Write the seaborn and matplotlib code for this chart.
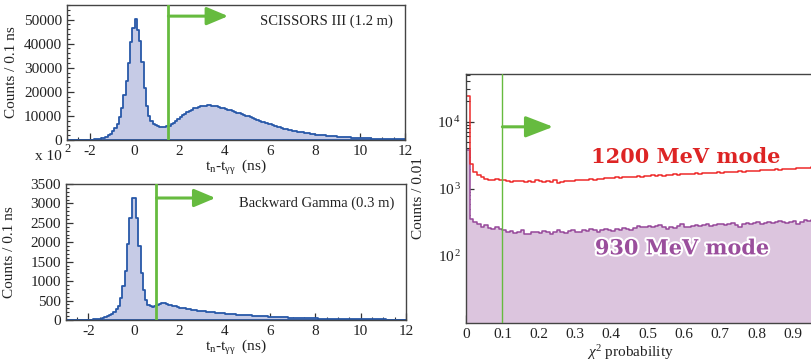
import numpy as np
import pandas as pd
import seaborn as sns
import matplotlib
matplotlib.use("Agg")
from matplotlib import pyplot as plt
from matplotlib import patheffects
from matplotlib.ticker import MultipleLocator, LogLocator, FixedLocator, FuncFormatter

# t_n - t_gg spectra, 0.1 ns bins starting at -3 ns
TOF_START = -3.0
TOF_BIN = 0.1
scissors_counts = [
    0, 0, 0, 0, 0, 0, 0, 0, 0, 0,
    150, 200, 300, 400, 550, 750, 1000, 1400, 2000, 2700,
    3600, 5000, 6800, 9500, 13500, 18500, 24500, 32000, 40500, 46500,
    50300, 45500, 41000, 32500, 21500, 14000, 10000, 7800, 6700, 6100,
    5800, 5600, 5600, 5600, 5700, 6000, 6500, 7100, 7800, 8600,
    9400, 10200, 10900, 11500, 12100, 12600, 13100, 13500, 13800, 14000,
    14200, 14300, 14400, 14400, 14300, 14200, 14000, 13800, 13500, 13200,
    12900, 12600, 12300, 12000, 11700, 11400, 11100, 10800, 10500, 10100,
    9800, 9400, 9100, 8700, 8400, 8000, 7700, 7400, 7100, 6800,
    6500, 6200, 5900, 5600, 5300, 5000, 4750, 4500, 4300, 4100,
    3900, 3700, 3500, 3350, 3200, 3050, 2900, 2750, 2600, 2450,
    2300, 2200, 2100, 2000, 1900, 1800, 1720, 1640, 1560, 1480,
    1400, 1330, 1260, 1200, 1140, 1080, 1020, 970, 920, 870,
    820, 780, 740, 700, 670, 640, 610, 580, 550, 520,
    500, 470, 450, 430, 410, 390, 370, 350, 330, 310,
]
backward_counts = [
    0, 0, 0, 0, 0, 0, 0, 0, 0, 0,
    10, 12, 15, 20, 25, 35, 50, 70, 90, 120,
    160, 210, 270, 360, 560, 880, 1250, 1950, 2620, 3150,
    3150, 2620, 1900, 1200, 780, 520, 390, 350, 340, 360,
    390, 420, 430, 425, 410, 395, 380, 365, 350, 335,
    320, 308, 296, 285, 275, 266, 258, 250, 243, 236,
    229, 222, 215, 208, 202, 196, 190, 184, 178, 172,
    166, 161, 156, 151, 146, 141, 137, 133, 129, 125,
    121, 117, 113, 109, 105, 101, 98, 95, 92, 89,
    86, 83, 80, 77, 74, 71, 68, 65, 62, 60,
    58, 56, 54, 52, 50, 48, 46, 44, 42, 41,
    40, 38, 37, 35, 34, 32, 31, 30, 29, 28,
    27, 26, 25, 24, 23, 22, 21, 20, 19, 18,
    18, 17, 17, 16, 16, 15, 15, 14, 14, 13,
    13, 12, 12, 11, 11, 11, 10, 10, 10, 9,
]

# chi2 probability, 0.01 bins from 0 to 1
CHI_BIN = 0.01
mode1200_counts = [
    24000, 2300, 1780, 1580, 1470, 1400, 1350, 1330, 1380, 1350,
    1370, 1300, 1260, 1320, 1290, 1310, 1260, 1300, 1280, 1330,
    1300, 1270, 1310, 1280, 1350, 1200, 1260, 1300, 1320, 1290,
    1340, 1330, 1360, 1340, 1380, 1370, 1410, 1390, 1420, 1450,
    1430, 1480, 1460, 1500, 1470, 1520, 1490, 1530, 1510, 1560,
    1540, 1580, 1560, 1590, 1570, 1610, 1600, 1630, 1610, 1650,
    1640, 1670, 1650, 1690, 1680, 1710, 1690, 1730, 1720, 1750,
    1740, 1770, 1760, 1790, 1780, 1810, 1800, 1830, 1820, 1860,
    1850, 1880, 1870, 1910, 1900, 1940, 1930, 1970, 1960, 2000,
    1990, 2030, 2020, 2060, 2050, 2090, 2080, 2120, 2110, 2160,
]
mode930_counts = [
    3800, 350, 320, 300, 270, 285, 260, 250, 265, 255,
    240, 225, 235, 220, 230, 245, 215, 210, 230, 225,
    220, 235, 225, 215, 230, 240, 225, 220, 235, 245,
    230, 225, 240, 235, 250, 240, 230, 245, 255, 240,
    235, 250, 245, 260, 255, 240, 260, 275, 265, 270,
    280, 265, 275, 285, 270, 255, 265, 260, 275, 300,
    270, 265, 280, 290, 275, 285, 295, 280, 290, 300,
    295, 285, 300, 310, 290, 270, 295, 305, 300, 310,
    315, 300, 310, 320, 305, 315, 330, 320, 310, 325,
    335, 300, 325, 340, 330, 345, 335, 325, 345, 340,
]

TOF_CUTS = [1.5, 1.0]
CHI_CUT = 0.1

GREEN = "#66bb3f"
BLUE_LINE = "#2858a8"
BLUE_FILL = "#c6cbe6"
RED = "#ee2a2a"
PURPLE_LINE = "#96489a"
PURPLE_FILL = "#dcc5de"

sns.set_style("ticks")
plt.rcParams["font.family"] = ["Liberation Serif", "DejaVu Serif"]
plt.rcParams["mathtext.fontset"] = "custom"
plt.rcParams["mathtext.rm"] = "Liberation Serif"
plt.rcParams["mathtext.it"] = "Liberation Serif:italic"
plt.rcParams["axes.unicode_minus"] = False
plt.rcParams["axes.edgecolor"] = "#444444"
plt.rcParams["axes.linewidth"] = 1.0


def hist_frame(start, width, counts):
    edges = np.round(start + width * np.arange(len(counts) + 1), 4)
    df = pd.DataFrame({"x": (edges[:-1] + edges[1:]) / 2, "counts": counts})
    return df, [float(e) for e in edges]


def style_axis(ax):
    ax.tick_params(which="both", direction="in", top=False, right=False,
                   colors="#333333", labelsize=11, labelcolor="#222222")
    ax.tick_params(which="major", length=5, width=0.9)
    ax.tick_params(which="minor", length=2.5, width=0.8)


def draw_cut(ax, x, y_frac, x_end, lw, head):
    ax.axvline(x, color=GREEN, lw=lw, zorder=5)
    ax.annotate("", xy=(x_end, y_frac), xytext=(x, y_frac),
                xycoords=ax.get_xaxis_transform(), textcoords=ax.get_xaxis_transform(),
                arrowprops=dict(arrowstyle=f"-|>,head_length={head[0]},head_width={head[1]}",
                                color=GREEN, lw=2.2, mutation_scale=13, shrinkA=0, shrinkB=0),
                zorder=6)


def draw_tof(ax, counts, ymax, major, cut, arrow_end, arrow_y, label):
    df, edges = hist_frame(TOF_START, TOF_BIN, counts)
    sns.histplot(data=df, x="x", weights="counts", bins=edges, element="step", fill=True,
                 facecolor=BLUE_FILL, edgecolor=BLUE_LINE, linewidth=1.3, alpha=1, ax=ax)
    ax.set_xlim(-3, 12)
    ax.set_ylim(0, ymax)
    ax.xaxis.set_major_locator(MultipleLocator(2))
    ax.xaxis.set_minor_locator(MultipleLocator(0.5))
    ax.yaxis.set_major_locator(MultipleLocator(major))
    ax.yaxis.set_minor_locator(MultipleLocator(major / 5))
    style_axis(ax)
    ax.set_ylabel("Counts / 0.1 ns", fontsize=11, color="#222222")
    ax.yaxis.set_label_coords(-0.145, 0.5)
    ax.set_xlabel(r"t$_\mathrm{n}$-t$_\mathrm{\gamma\gamma}$  (ns)", fontsize=11, color="#222222")
    draw_cut(ax, cut, arrow_y, arrow_end, 2.0, (1.0, 0.42))
    ax.text(0.965, arrow_y - 0.04, label, transform=ax.transAxes, ha="right", va="center",
            fontsize=10.5, color="#222222")


def chi_tick(v, pos):
    if abs(v) < 1e-9:
        return "0"
    if v > 0.995:
        return ""
    return f"{v:.1f}"


fig = plt.figure(figsize=(8.12, 3.61), dpi=100)
ax_top = fig.add_axes([0.0825, 0.612, 0.4163, 0.374])
ax_bot = fig.add_axes([0.081, 0.1136, 0.419, 0.3767])
ax_chi = fig.add_axes([0.574, 0.105, 0.447, 0.69])

draw_tof(ax_top, scissors_counts, 56000, 10000, TOF_CUTS[0], 4.15, 0.918, "SCISSORS III (1.2 m)")
ax_top.xaxis.set_label_coords(0.5, -0.13)
draw_tof(ax_bot, backward_counts, 3500, 500, TOF_CUTS[1], 3.6, 0.897, "Backward Gamma (0.3 m)")
ax_bot.xaxis.set_label_coords(0.5, -0.13)

fig.text(35 / 812, 1 - 156 / 361, "x 10", fontsize=11, va="center", color="#222222")
fig.text(64 / 812, 1 - 149 / 361, "2", fontsize=9, va="center", color="#222222")

# chi2 probability panel
df930, chi_edges = hist_frame(0.0, CHI_BIN, mode930_counts)
df1200, _ = hist_frame(0.0, CHI_BIN, mode1200_counts)
ax_chi.set_yscale("log")
sns.histplot(data=df930, x="x", weights="counts", bins=chi_edges, element="step", fill=True,
             facecolor=PURPLE_FILL, edgecolor=PURPLE_LINE, linewidth=1.1, alpha=1, ax=ax_chi)
sns.histplot(data=df1200, x="x", weights="counts", bins=chi_edges, element="step", fill=False,
             color=RED, linewidth=1.1, ax=ax_chi)
ax_chi.set_xlim(0, 1.0)
ax_chi.set_ylim(10, 51000)
ax_chi.xaxis.set_major_locator(MultipleLocator(0.1))
ax_chi.xaxis.set_minor_locator(MultipleLocator(0.02))
ax_chi.xaxis.set_major_formatter(FuncFormatter(chi_tick))
ax_chi.yaxis.set_major_locator(FixedLocator([100, 1000, 10000]))
ax_chi.yaxis.set_minor_locator(LogLocator(base=10, subs=np.arange(2, 10)))
ax_chi.yaxis.set_major_formatter(FuncFormatter(lambda v, p: r"10$^{\,%d}$" % round(np.log10(v))))
style_axis(ax_chi)
ax_chi.tick_params(which="major", length=6)
ax_chi.tick_params(which="minor", length=3)
ax_chi.set_ylabel("Counts / 0.01", fontsize=11, color="#222222")
ax_chi.yaxis.set_label_coords(-0.113, 0.5)
ax_chi.set_xlabel(r"$\chi^{2}$ probability", fontsize=11, color="#222222")
ax_chi.xaxis.set_label_coords(0.452, -0.082)
draw_cut(ax_chi, CHI_CUT, 0.788, 0.24, 1.0, (1.3, 0.5))

ax_chi.text(0.345, 0.665, "1200 MeV mode", transform=ax_chi.transAxes, ha="left", va="center",
            fontsize=15, fontweight="bold", family="DejaVu Serif", color="#dd2424")
ax_chi.text(0.355, 0.30, "930 MeV mode", transform=ax_chi.transAxes, ha="left", va="center",
            fontsize=15, fontweight="bold", family="DejaVu Serif", color="#9a4e9c",
            path_effects=[patheffects.withStroke(linewidth=3, foreground="white")])

fig.savefig("out.png", dpi=100)
